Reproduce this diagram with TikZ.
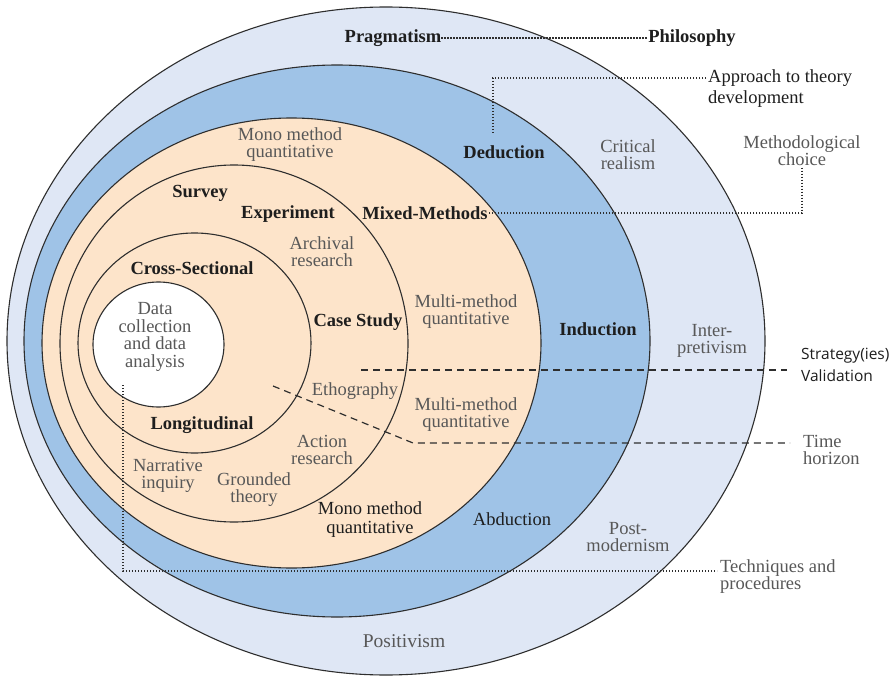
\documentclass[tikz,border=0pt]{standalone}
\usepackage{fontspec}
\setmainfont{Liberation Serif}
\newfontfamily\labelsans{Open Sans}

\definecolor{paleblue}{HTML}{DFE7F5}
\definecolor{midblue}{HTML}{9FC3E7}
\definecolor{peach}{HTML}{FDE4CA}
\definecolor{ink}{HTML}{1E1E1E}
\definecolor{softgray}{HTML}{585858}
\definecolor{rim}{HTML}{2E2E2E}

\tikzset{
  ring/.style={draw=rim, line width=1.1pt},
  layerhead/.style={inner sep=0pt, text=ink, align=center,
    font=\fontsize{18.5}{17}\selectfont\bfseries},
  option/.style={inner sep=0pt, text=softgray, align=center,
    font=\fontsize{18.5}{17}\selectfont},
  plain/.style={inner sep=0pt, text=ink, align=center,
    font=\fontsize{18.5}{19}\selectfont},
  sidenote/.style={inner sep=0pt, text=ink, align=left,
    font=\labelsans\fontsize{15.5}{22}\selectfont},
  dotline/.style={draw=rim, line width=1.3pt, dash pattern=on 1.3pt off 1.7pt},
  dashline/.style={draw=rim, line width=1.2pt, dash pattern=on 7pt off 5pt},
}

\begin{document}
\begin{tikzpicture}[x=1pt,y=-1pt]
  \useasboundingbox (0,0) rectangle (892,677);
  \fill[white] (0,0) rectangle (892,677);

  % nested layers of the research onion
  \filldraw[ring, fill=paleblue] (386,341) ellipse [x radius=379pt, y radius=334pt];
  \filldraw[ring, fill=midblue]  (337,341) ellipse [x radius=313pt, y radius=276pt];
  \filldraw[ring, fill=peach]    (291.5,343) ellipse [x radius=249.5pt, y radius=225pt];
  \draw[ring] (234,343.5) ellipse [x radius=174pt, y radius=178.5pt];
  \draw[ring] (194.5,343) ellipse [x radius=116.5pt, y radius=110pt];
  \filldraw[ring, fill=white] (158.5,344.5) ellipse [x radius=65.5pt, y radius=62.5pt];

  % layer names on the right
  \node[layerhead] (pragmatism) at (393,38) {Pragmatism};
  \node[layerhead] (philosophy) at (692,38) {Philosophy};
  \node[plain, align=left, anchor=west, font=\fontsize{18.5}{21}\selectfont] (approach) at (708,88.5) {Approach to theory\\development};
  \node[option] (methchoice) at (802,150.5) {Methodological\\choice};
  \node[sidenote, anchor=west] (strategy) at (801,365) {Strategy(ies)\\Validation};
  \node[option, align=left, anchor=west] (timehor) at (803,450) {Time\\horizon};
  \node[option, align=left, anchor=west] (techniques) at (720,577) {Techniques and\\procedures};

  % philosophies
  \node[option] (critical) at (628,155) {Critical\\realism};
  \node[option] (interpret) at (712,340.5) {Inter-\\pretivism};
  \node[option] (postmod) at (628,537) {Post-\\modernism};
  \node[option, font=\fontsize{19.5}{19}\selectfont] (positivism) at (404,641) {Positivism};

  % approaches to theory development
  \node[layerhead] (deduction) at (504,152) {Deduction};
  \node[layerhead] (induction) at (598,329) {Induction};
  \node[plain] (abduction) at (512,519) {Abduction};

  % methodological choices
  \node[option] (monotop) at (290,145) {Mono method\\quantitative};
  \node[layerhead] (mixed) at (425,213) {Mixed-Methods};
  \node[option] (multiA) at (466,312) {Multi-method\\quantitative};
  \node[option] (multiB) at (466,415) {Multi-method\\quantitative};
  \node[plain] (monobot) at (370,520) {Mono method\\quantitative};

  % strategies
  \node[layerhead] (survey) at (200,193) {Survey};
  \node[layerhead] (experiment) at (288,214) {Experiment};
  \node[option] (archival) at (322,251.5) {Archival\\research};
  \node[layerhead] (casestudy) at (358,322) {Case Study};
  \node[option] (ethography) at (355,391) {Ethography};
  \node[option] (action) at (322,450) {Action\\research};
  \node[option] (narrative) at (168,476) {Narrative\\inquiry};
  \node[option] (grounded) at (254,490) {Grounded\\theory};

  % time horizons
  \node[layerhead] (cross) at (192,268) {Cross-Sectional};
  \node[layerhead] (longit) at (202,425) {Longitudinal};

  % core
  \node[option, font=\fontsize{18.5}{17.5}\selectfont] (core) at (155,337) {Data\\collection\\and data\\analysis};

  % leader lines
  \coordinate (apprtip) at (706,78);
  \coordinate (dedtop) at (493,134);
  \coordinate (stratA) at (361,370);
  \coordinate (stratB) at (787,370);
  \coordinate (timeA) at (273,386);
  \coordinate (timeB) at (413,443);
  \coordinate (timeC) at (790,443);
  \coordinate (techA) at (123,385);
  \coordinate (techB) at (717,571);

  \draw[dotline] (pragmatism.east) -- (philosophy.west);
  \draw[dotline] (apprtip) -| (dedtop);
  \draw[dotline] ([yshift=-2pt]methchoice.south) |- (mixed.east);
  \draw[dashline] (stratA) -- (stratB);
  \draw[dashline] (timeA) -- (timeB) -- (timeC);
  \draw[dotline] (techA) |- (techB);
\end{tikzpicture}
\end{document}
